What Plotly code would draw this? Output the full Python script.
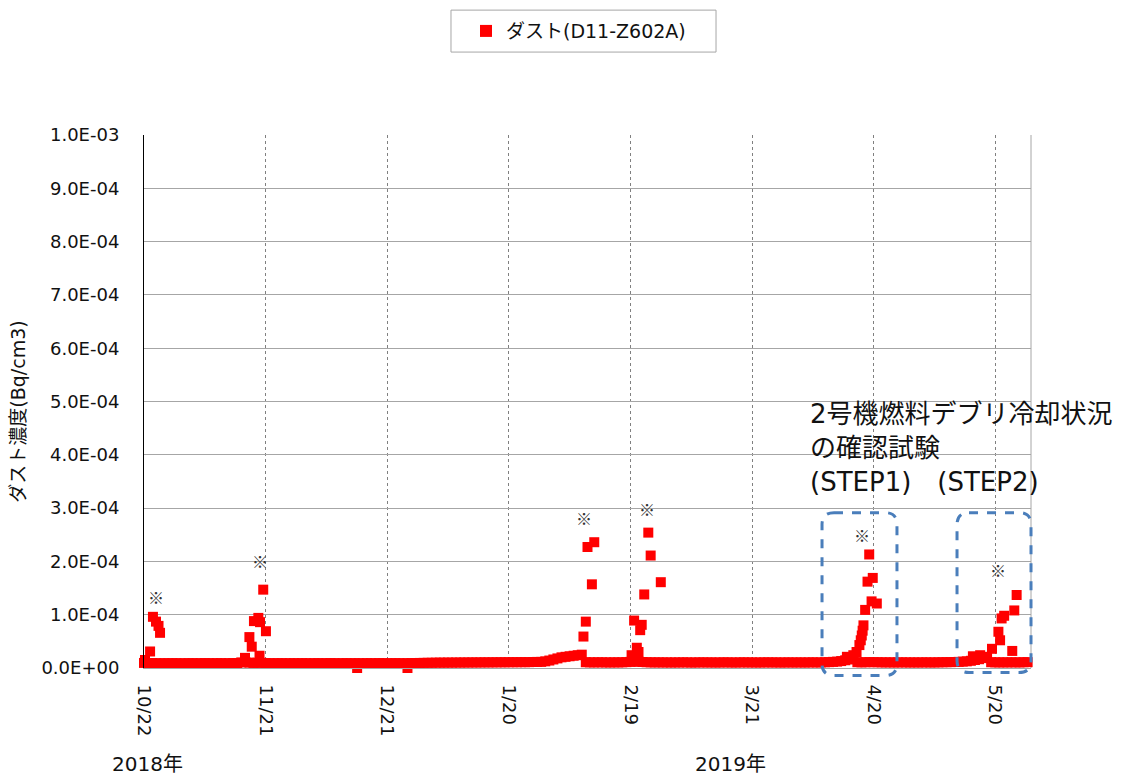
import plotly.graph_objects as go
import pandas as pd

# ---------------- data ----------------
series_name = "ダスト(D11-Z602A)"
y_title = "ダスト濃度(Bq/cm3)"

baseline_dates = pd.date_range("2018-10-22", "2019-05-28", freq="D")
baseline_values = [
    # Oct 22-31
    9.5e-6, 9.0e-6, 9.2e-6, 9.0e-6, 8.8e-6, 9.0e-6, 8.9e-6, 9.1e-6, 9.0e-6, 8.8e-6,
    # Nov
    8.9e-6, 9.0e-6, 9.1e-6, 8.8e-6, 9.0e-6, 9.2e-6, 9.0e-6, 8.9e-6, 9.0e-6, 9.1e-6,
    8.8e-6, 9.0e-6, 9.2e-6, 9.4e-6, 10.5e-6, 11.0e-6, 10.0e-6, 9.5e-6, 9.8e-6, 9.6e-6,
    9.2e-6, 9.0e-6, 8.9e-6, 9.0e-6, 9.1e-6, 8.8e-6, 9.0e-6, 9.0e-6, 8.9e-6, 9.1e-6,
    # Dec
    9.0e-6, 8.8e-6, 9.0e-6, 9.1e-6, 8.9e-6, 9.0e-6, 9.2e-6, 9.0e-6, 8.8e-6, 9.0e-6,
    9.1e-6, 8.9e-6, 9.0e-6, 9.0e-6, 8.8e-6, 9.1e-6, 9.0e-6, 8.9e-6, 9.2e-6, 9.0e-6,
    8.9e-6, 9.0e-6, 9.1e-6, 9.0e-6, 8.8e-6, 9.0e-6, 9.2e-6, 9.3e-6, 9.5e-6, 9.6e-6,
    9.8e-6,
    # Jan
    9.8e-6, 10.0e-6, 10.1e-6, 10.0e-6, 10.2e-6, 10.1e-6, 10.3e-6, 10.2e-6, 10.4e-6, 10.3e-6,
    10.5e-6, 10.4e-6, 10.5e-6, 10.6e-6, 10.5e-6, 10.7e-6, 10.6e-6, 10.8e-6, 10.7e-6, 10.8e-6,
    10.9e-6, 10.8e-6, 11.0e-6, 10.9e-6, 11.0e-6, 11.2e-6, 11.4e-6, 11.5e-6, 12.5e-6, 14.0e-6,
    16.0e-6,
    # Feb
    18.0e-6, 20.0e-6, 21.0e-6, 22.0e-6, 23.0e-6, 24.0e-6, 25.0e-6, 10.8e-6, 10.6e-6, 10.5e-6,
    10.7e-6, 10.6e-6, 10.5e-6, 10.4e-6, 10.6e-6, 10.5e-6, 10.7e-6, 11.0e-6, 11.5e-6, 12.0e-6,
    11.8e-6, 11.2e-6, 10.8e-6, 10.6e-6, 10.5e-6, 10.6e-6, 10.4e-6, 10.5e-6,
    # Mar
    10.3e-6, 10.5e-6, 10.4e-6, 10.6e-6, 10.5e-6, 10.3e-6, 10.4e-6, 10.5e-6, 10.6e-6, 10.4e-6,
    10.5e-6, 10.3e-6, 10.4e-6, 10.6e-6, 10.5e-6, 10.4e-6, 10.3e-6, 10.5e-6, 10.6e-6, 10.4e-6,
    10.5e-6, 10.3e-6, 10.4e-6, 10.5e-6, 10.6e-6, 10.4e-6, 10.5e-6, 10.3e-6, 10.4e-6, 10.5e-6,
    10.4e-6,
    # Apr
    10.4e-6, 10.5e-6, 10.3e-6, 10.5e-6, 10.6e-6, 10.4e-6, 10.5e-6, 10.8e-6, 11.0e-6, 11.5e-6,
    12.0e-6, 13.0e-6, 14.5e-6, 16.0e-6, 18.0e-6, 10.8e-6, 10.6e-6, 10.8e-6, 11.0e-6, 10.9e-6,
    10.8e-6, 10.6e-6, 10.5e-6, 10.6e-6, 10.4e-6, 10.5e-6, 10.6e-6, 10.5e-6, 10.4e-6, 10.5e-6,
    # May 1-28
    10.4e-6, 10.5e-6, 10.6e-6, 10.4e-6, 10.5e-6, 10.6e-6, 10.8e-6, 10.9e-6, 11.0e-6, 11.2e-6,
    11.5e-6, 12.0e-6, 12.5e-6, 13.5e-6, 15.0e-6, 16.5e-6, 18.5e-6, 21.0e-6, 10.8e-6, 10.6e-6,
    10.5e-6, 10.6e-6, 10.5e-6, 10.7e-6, 10.6e-6, 10.5e-6, 10.8e-6, 11.0e-6,
]

spike_dates = [
    # Oct
    "2018-10-22 06:00", "2018-10-23 12:00", "2018-10-24 05:00", "2018-10-24 23:00",
    "2018-10-25 14:00", "2018-10-25 23:00",
    # Nov
    "2018-11-15 22:00", "2018-11-17 00:00", "2018-11-17 14:00", "2018-11-18 03:00",
    "2018-11-19 05:00", "2018-11-19 12:00", "2018-11-19 15:00", "2018-11-20 10:00",
    "2018-11-21 02:00",
    # Dec (low readings)
    "2018-12-13 14:00", "2018-12-26 00:00",
    # Feb (1st)
    "2019-02-07 10:00", "2019-02-08 00:00", "2019-02-08 10:00", "2019-02-09 12:00",
    "2019-02-10 02:00",
    # Feb (2nd)
    "2019-02-19 07:00", "2019-02-19 22:00", "2019-02-20 14:00", "2019-02-21 00:00",
    "2019-02-21 10:00", "2019-02-21 19:00", "2019-02-22 10:00", "2019-02-23 10:00",
    "2019-02-24 00:00", "2019-02-26 12:00",
    # Apr (STEP1)
    "2019-04-13 10:00", "2019-04-15 00:00", "2019-04-15 19:00", "2019-04-16 12:00",
    "2019-04-16 20:00", "2019-04-17 02:00", "2019-04-17 07:00", "2019-04-17 12:00",
    "2019-04-17 22:00", "2019-04-18 12:00", "2019-04-18 22:00", "2019-04-19 12:00",
    "2019-04-19 19:00", "2019-04-20 19:00",
    # May (STEP2)
    "2019-05-14 12:00", "2019-05-16 07:00", "2019-05-19 05:00", "2019-05-20 19:00",
    "2019-05-21 05:00", "2019-05-21 14:00", "2019-05-22 05:00", "2019-05-24 05:00",
    "2019-05-24 17:00", "2019-05-25 07:00",
]
spike_values = [
    # Oct
    1.5e-5, 3.1e-5, 9.6e-5, 8.7e-5, 7.9e-5, 6.6e-5,
    # Nov
    1.9e-5, 5.8e-5, 4.0e-5, 8.8e-5, 9.4e-5, 2.3e-5, 8.6e-5, 1.47e-4, 6.9e-5,
    # Dec
    0.0, 0.0,
    # Feb (1st)
    5.9e-5, 8.7e-5, 2.27e-4, 1.57e-4, 2.36e-4,
    # Feb (2nd)
    2.4e-5, 8.9e-5, 3.8e-5, 3.0e-5, 7.1e-5, 8.1e-5, 1.38e-4, 2.54e-4, 2.11e-4, 1.61e-4,
    # Apr
    2.1e-5, 2.4e-5, 3.0e-5, 4.3e-5, 5.2e-5, 6.1e-5, 7.0e-5, 8.0e-5, 1.09e-4, 1.62e-4,
    2.13e-4, 1.25e-4, 1.69e-4, 1.21e-4,
    # May
    2.2e-5, 2.4e-5, 3.6e-5, 6.8e-5, 5.2e-5, 9.3e-5, 9.8e-5, 3.2e-5, 1.08e-4, 1.37e-4,
]

x_tick_vals = ["2018-10-22", "2018-11-21", "2018-12-21", "2019-01-20",
               "2019-02-19", "2019-03-21", "2019-04-20", "2019-05-20"]
x_tick_text = ["10/22", "11/21", "12/21", "1/20", "2/19", "3/21", "4/20", "5/20"]
x_range = ["2018-10-22 00:00", "2019-05-28 20:00"]

y_tick_vals = [0, 1e-4, 2e-4, 3e-4, 4e-4, 5e-4, 6e-4, 7e-4, 8e-4, 9e-4, 1e-3]
y_tick_text = ["0.0E+00", "1.0E-04", "2.0E-04", "3.0E-04", "4.0E-04", "5.0E-04",
               "6.0E-04", "7.0E-04", "8.0E-04", "9.0E-04", "1.0E-03"]

note_dates = ["2018-10-25 00:00", "2018-11-19 15:00", "2019-02-07 14:00",
              "2019-02-23 03:00", "2019-04-17 03:00", "2019-05-20 17:00"]
note_values = [1.34e-4, 2.01e-4, 2.82e-4, 2.99e-4, 2.50e-4, 1.84e-4]

# ---------------- figure ----------------
FONT = "DejaVu Sans, Noto Sans CJK JP"
JFONT = "Noto Sans CJK JP"

x_all = list(baseline_dates) + [pd.Timestamp(d) for d in spike_dates]
y_all = list(baseline_values) + list(spike_values)

fig = go.Figure()
fig.add_trace(go.Scatter(
    x=x_all, y=y_all, mode="markers", name=series_name,
    marker=dict(symbol="square", size=10, color="#ff0000", line=dict(width=0)),
    cliponaxis=False, showlegend=True,
))

annotations = []
for d, v in zip(note_dates, note_values):
    annotations.append(dict(x=d, y=v, xref="x", yref="y", text="※", showarrow=False,
                            font=dict(family=JFONT, size=16, color="#333333")))

annotations.append(dict(
    x=0.7485, y=0.5076, xref="paper", yref="paper", xanchor="left", yanchor="top",
    align="left", showarrow=False,
    text="2号機燃料デブリ冷却状況<br>の確認試験<br>(STEP1)　(STEP2)",
    font=dict(family=FONT, size=26, color="#111111")))
annotations.append(dict(x=0.0045, y=-0.181, xref="paper", yref="paper", text="2018年",
                        showarrow=False, xanchor="center", yanchor="middle",
                        font=dict(family=FONT, size=20, color="#111111")))
annotations.append(dict(x=0.661, y=-0.181, xref="paper", yref="paper", text="2019年",
                        showarrow=False, xanchor="center", yanchor="middle",
                        font=dict(family=FONT, size=20, color="#111111")))
# y-axis title
annotations.append(dict(x=-0.142, y=0.481, xref="paper", yref="paper", text=y_title,
                        textangle=-90, showarrow=False, xanchor="center", yanchor="middle",
                        font=dict(family=FONT, size=19, color="#111111")))


def rounded_path(x0, x1, y0, y1, rx, ry):
    return (f"M {x0+rx},{y1} L {x1-rx},{y1} Q {x1},{y1} {x1},{y1-ry} "
            f"L {x1},{y0+ry} Q {x1},{y0} {x1-rx},{y0} "
            f"L {x0+rx},{y0} Q {x0},{y0} {x0},{y0+ry} "
            f"L {x0},{y1-ry} Q {x0},{y1} {x0+rx},{y1} Z")


rx, ry = 12 / 887, 12 / 533.5
shapes = [
    dict(type="line", xref="paper", yref="paper", x0=1, x1=1, y0=0, y1=1,
         line=dict(color="#a6a6a6", width=1), layer="below"),
    # legend frame
    dict(type="rect", xref="paper", yref="paper", x0=0.3461, x1=0.6449,
         y0=1.1556, y1=1.2343, line=dict(color="#a6a6a6", width=1),
         fillcolor="white", layer="below"),
    dict(type="path", xref="paper", yref="paper",
         path=rounded_path(0.7644, 0.8489, -0.0141, 0.2915, rx, ry),
         line=dict(color="#4a7ebb", width=3, dash="dash"), layer="above"),
    dict(type="path", xref="paper", yref="paper",
         path=rounded_path(0.9166, 1.0, -0.0084, 0.2915, rx, ry),
         line=dict(color="#4a7ebb", width=3, dash="dash"), layer="above"),
]

fig.update_layout(
    width=1121, height=778,
    margin=dict(l=144, r=90, t=135, b=110, autoexpand=False),
    paper_bgcolor="white", plot_bgcolor="white",
    font=dict(family=FONT, size=17, color="#111111"),
    showlegend=True,
    legend=dict(
        x=0.363, y=1.195, xanchor="left", yanchor="middle",
        borderwidth=0, bgcolor="rgba(0,0,0,0)",
        font=dict(family=FONT, size=19, color="#111111"),
        itemsizing="constant",
    ),
    xaxis=dict(
        type="date", range=x_range, tickmode="array", tickvals=x_tick_vals,
        ticktext=x_tick_text, tickangle=90, showgrid=True, gridcolor="#808080",
        griddash="dot", gridwidth=1, showline=True, linecolor="#a6a6a6", linewidth=1,
        ticks="", ticklabelstandoff=12, zeroline=False,
        tickfont=dict(family=FONT, size=18, color="#111111"),
    ),
    yaxis=dict(
        range=[0, 1e-3], tickmode="array", tickvals=y_tick_vals, ticktext=y_tick_text,
        showgrid=True, gridcolor="#a6a6a6", gridwidth=1, showline=True,
        linecolor="#000000", linewidth=1, ticks="", ticklabelstandoff=20,
        zeroline=False, tickfont=dict(family=FONT, size=18, color="#111111"),
    ),
    annotations=annotations,
    shapes=shapes,
)

fig.write_html("out.html")
